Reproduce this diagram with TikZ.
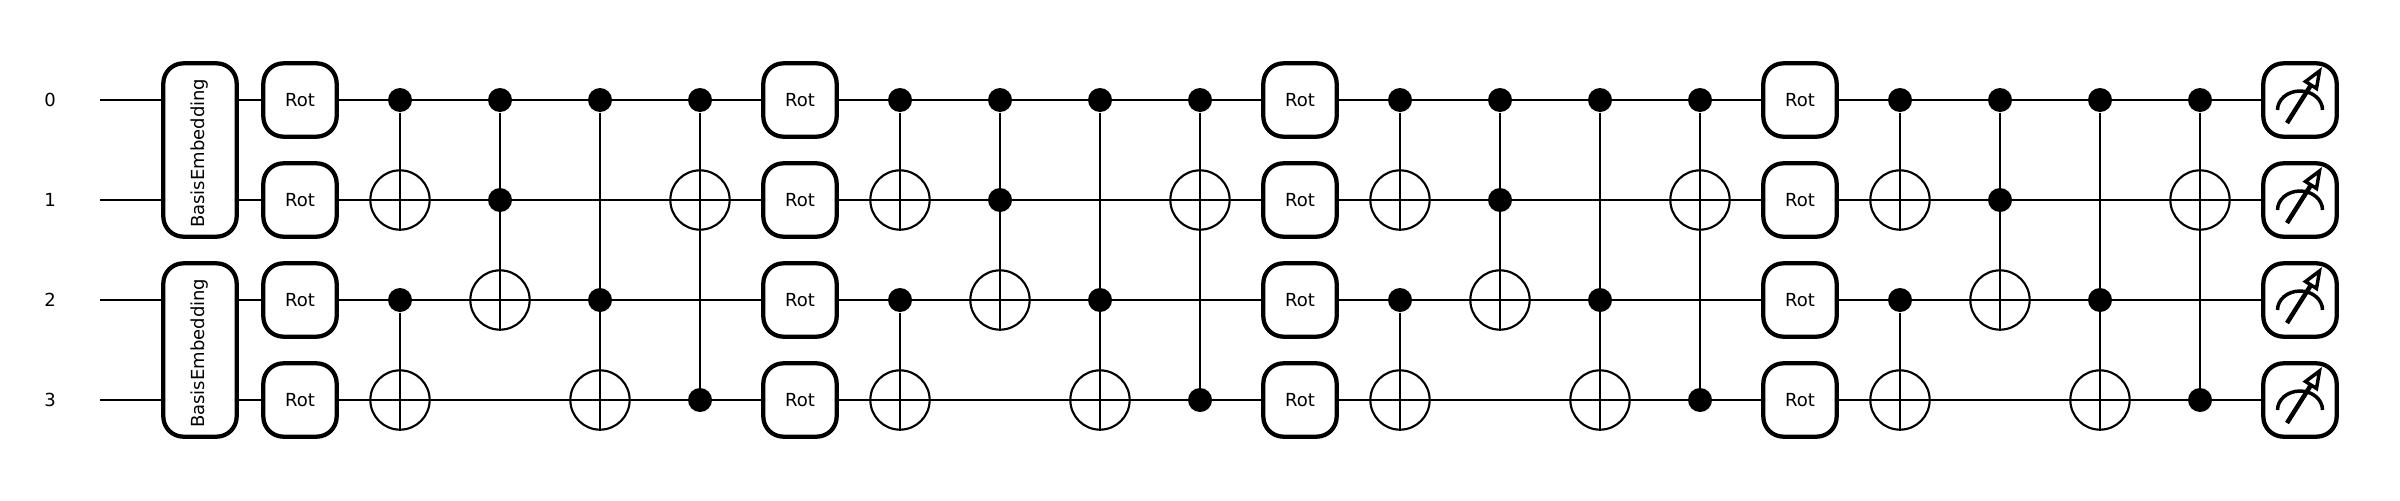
\documentclass[tikz,border=0pt]{standalone}
\usepackage{fontspec}
\setmainfont{DejaVu Sans}

\tikzset{
  every picture/.style={line width=0.75pt},
  wire/.style={line width=2pt},
  gatebox/.style={draw, fill=white, line width=3.2pt, rounded corners=15pt, inner sep=0pt, font=\fontsize{13.5}{16}\selectfont, minimum width=55pt, minimum height=55pt},
  embedbox/.style={gatebox, rotate=90, minimum width=130pt, minimum height=55pt, execute at end node=\hspace*{5pt}},
  wirelabel/.style={inner sep=0.75pt, font=\fontsize{13.5}{16}\selectfont},
  ctrl/.style={circle, fill=black, inner sep=0pt, minimum size=18pt},
  targ/.style={circle, draw, line width=1.6pt, inner sep=0pt, minimum size=44.5pt},
  link/.style={line width=1.8pt},
  metersign/.pic={
    \draw [line width=2.6pt] (-22.5,-10) arc [start angle=180, end angle=0, x radius=22.5, y radius=19];
    \draw [line width=3.4pt] (-13,-23) -- (11,15);
    \draw [line width=2.6pt, fill=white] (19.5,29) -- (5.5,18.5) -- (16.5,11.5) -- cycle;
  },
}

\begin{document}
\begin{tikzpicture}[x=0.75pt,y=0.75pt,yscale=-1,xscale=1]
    \useasboundingbox (0,0) rectangle (2400,500);
    % Wire labels
    \node [wirelabel] (lab0) at (50,100) {0};
    \node [wirelabel] (lab1) at (50,200) {1};
    \node [wirelabel] (lab2) at (50,300) {2};
    \node [wirelabel] (lab3) at (50,400) {3};
    % Wire starts
    \coordinate (in0) at (100,100);
    \coordinate (in1) at (100,200);
    \coordinate (in2) at (100,300);
    \coordinate (in3) at (100,400);
    % Wire ends
    \coordinate (out0) at (2300,100);
    \coordinate (out1) at (2300,200);
    \coordinate (out2) at (2300,300);
    \coordinate (out3) at (2300,400);
    % Connection
    \draw [wire] (in0) -- (out0);
    \draw [wire] (in1) -- (out1);
    \draw [wire] (in2) -- (out2);
    \draw [wire] (in3) -- (out3);
    % Embedding
    \node [embedbox] (emb0) at (200,150) {BasisEmbedding};
    \node [embedbox] (emb1) at (200,350) {BasisEmbedding};
    % Rot column 1
    \node [gatebox] (rota0) at (300,100) {Rot};
    \node [gatebox] (rota1) at (300,200) {Rot};
    \node [gatebox] (rota2) at (300,300) {Rot};
    \node [gatebox] (rota3) at (300,400) {Rot};
    % Entanglers 1
    \node [ctrl] (ca0) at (400,100) {};
    \node [targ] (ta0) at (400,200) {};
    \node [ctrl] (ca1) at (400,300) {};
    \node [targ] (ta1) at (400,400) {};
    \draw [link] (ca0) -- (ta0.south);
    \draw [link] (ca1) -- (ta1.south);
    \node [ctrl] (ca2) at (500,100) {};
    \node [ctrl] (ca3) at (500,200) {};
    \node [targ] (ta2) at (500,300) {};
    \draw [link] (ca2) -- (ta2.south);
    \node [ctrl] (ca4) at (600,100) {};
    \node [ctrl] (ca5) at (600,300) {};
    \node [targ] (ta3) at (600,400) {};
    \draw [link] (ca4) -- (ta3.south);
    \node [ctrl] (ca6) at (700,100) {};
    \node [targ] (ta4) at (700,200) {};
    \node [ctrl] (ca7) at (700,400) {};
    \draw [link] (ca6) -- (ca7);
    % Rot column 2
    \node [gatebox] (rotb0) at (800,100) {Rot};
    \node [gatebox] (rotb1) at (800,200) {Rot};
    \node [gatebox] (rotb2) at (800,300) {Rot};
    \node [gatebox] (rotb3) at (800,400) {Rot};
    % Entanglers 2
    \node [ctrl] (cb0) at (900,100) {};
    \node [targ] (tb0) at (900,200) {};
    \node [ctrl] (cb1) at (900,300) {};
    \node [targ] (tb1) at (900,400) {};
    \draw [link] (cb0) -- (tb0.south);
    \draw [link] (cb1) -- (tb1.south);
    \node [ctrl] (cb2) at (1000,100) {};
    \node [ctrl] (cb3) at (1000,200) {};
    \node [targ] (tb2) at (1000,300) {};
    \draw [link] (cb2) -- (tb2.south);
    \node [ctrl] (cb4) at (1100,100) {};
    \node [ctrl] (cb5) at (1100,300) {};
    \node [targ] (tb3) at (1100,400) {};
    \draw [link] (cb4) -- (tb3.south);
    \node [ctrl] (cb6) at (1200,100) {};
    \node [targ] (tb4) at (1200,200) {};
    \node [ctrl] (cb7) at (1200,400) {};
    \draw [link] (cb6) -- (cb7);
    % Rot column 3
    \node [gatebox] (rotc0) at (1300,100) {Rot};
    \node [gatebox] (rotc1) at (1300,200) {Rot};
    \node [gatebox] (rotc2) at (1300,300) {Rot};
    \node [gatebox] (rotc3) at (1300,400) {Rot};
    % Entanglers 3
    \node [ctrl] (cc0) at (1400,100) {};
    \node [targ] (tc0) at (1400,200) {};
    \node [ctrl] (cc1) at (1400,300) {};
    \node [targ] (tc1) at (1400,400) {};
    \draw [link] (cc0) -- (tc0.south);
    \draw [link] (cc1) -- (tc1.south);
    \node [ctrl] (cc2) at (1500,100) {};
    \node [ctrl] (cc3) at (1500,200) {};
    \node [targ] (tc2) at (1500,300) {};
    \draw [link] (cc2) -- (tc2.south);
    \node [ctrl] (cc4) at (1600,100) {};
    \node [ctrl] (cc5) at (1600,300) {};
    \node [targ] (tc3) at (1600,400) {};
    \draw [link] (cc4) -- (tc3.south);
    \node [ctrl] (cc6) at (1700,100) {};
    \node [targ] (tc4) at (1700,200) {};
    \node [ctrl] (cc7) at (1700,400) {};
    \draw [link] (cc6) -- (cc7);
    % Rot column 4
    \node [gatebox] (rotd0) at (1800,100) {Rot};
    \node [gatebox] (rotd1) at (1800,200) {Rot};
    \node [gatebox] (rotd2) at (1800,300) {Rot};
    \node [gatebox] (rotd3) at (1800,400) {Rot};
    % Entanglers 4
    \node [ctrl] (cd0) at (1900,100) {};
    \node [targ] (td0) at (1900,200) {};
    \node [ctrl] (cd1) at (1900,300) {};
    \node [targ] (td1) at (1900,400) {};
    \draw [link] (cd0) -- (td0.south);
    \draw [link] (cd1) -- (td1.south);
    \node [ctrl] (cd2) at (2000,100) {};
    \node [ctrl] (cd3) at (2000,200) {};
    \node [targ] (td2) at (2000,300) {};
    \draw [link] (cd2) -- (td2.south);
    \node [ctrl] (cd4) at (2100,100) {};
    \node [ctrl] (cd5) at (2100,300) {};
    \node [targ] (td3) at (2100,400) {};
    \draw [link] (cd4) -- (td3.south);
    \node [ctrl] (cd6) at (2200,100) {};
    \node [targ] (td4) at (2200,200) {};
    \node [ctrl] (cd7) at (2200,400) {};
    \draw [link] (cd6) -- (cd7);
    % Measurements
    \node [gatebox] (meas0) at (out0) {};
    \node [gatebox] (meas1) at (out1) {};
    \node [gatebox] (meas2) at (out2) {};
    \node [gatebox] (meas3) at (out3) {};
    \pic at (meas0) {metersign};
    \pic at (meas1) {metersign};
    \pic at (meas2) {metersign};
    \pic at (meas3) {metersign};
\end{tikzpicture}
\end{document}
